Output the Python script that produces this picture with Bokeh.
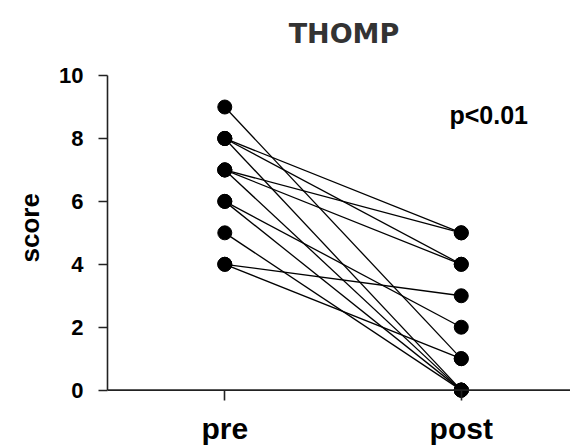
from bokeh.plotting import figure
from bokeh.models import Range1d, FixedTicker, Label, Span, Title
from bokeh.embed import file_html
from bokeh.resources import INLINE

# Data: paired scores (pre -> post) per subject
categories = ["pre", "post"]
pre_scores = [9, 8, 8, 8, 7, 7, 7, 6, 6, 5, 4, 4]
post_scores = [1, 5, 4, 0, 5, 4, 0, 2, 0, 0, 3, 1]
y_ticks = [0, 2, 4, 6, 8, 10]
title_text = "THOMP"
pvalue_text = "p<0.01"
y_label = "score"

x_pre = [1] * len(pre_scores)
x_post = [2] * len(post_scores)

p = figure(width=570, height=447, output_backend="svg", toolbar_location=None,
           x_range=Range1d(0.504, 2.462), y_range=Range1d(-0.33, 12.1),
           min_border_left=104, min_border_right=0, min_border_top=9,
           min_border_bottom=45)
p.title = None

p.grid.visible = False
p.outline_line_color = None
p.background_fill_color = "white"
p.border_fill_color = "white"

# title drawn inside the (extended) frame, above the y-axis bounds
p.add_layout(Label(x=1.504, y=11.34, text=title_text, text_font="DejaVu Sans",
                   text_font_style="bold", text_font_size="27px",
                   text_color="#333333", text_align="center",
                   text_baseline="middle"))

# x axis line at score 0
p.add_layout(Span(location=0, dimension="width", line_color="#222222", line_width=1.6))

p.segment(x0=x_pre, y0=pre_scores, x1=x_post, y1=post_scores,
          line_color="black", line_width=1.3)
p.scatter(x_pre, pre_scores, size=14, color="black")
p.scatter(x_post, post_scores, size=14, color="black")

# x axis
xa = p.xaxis[0]
xa.ticker = FixedTicker(ticks=[1, 2])
xa.major_label_overrides = {1: categories[0], 2: categories[1]}
xa.major_label_text_font = "Liberation Sans"
xa.major_label_text_font_style = "bold"
xa.major_label_text_font_size = "30px"
xa.major_label_text_color = "black"
xa.major_label_standoff = 11
xa.axis_line_color = None
xa.major_tick_line_width = 1.6
xa.major_tick_line_color = "#222222"
xa.major_tick_in = 10
xa.major_tick_out = 0
xa.minor_tick_line_color = None

# y axis
ya = p.yaxis[0]
ya.bounds = (0, 10)
ya.ticker = FixedTicker(ticks=y_ticks)
ya.major_label_text_font = "Liberation Sans"
ya.major_label_text_font_style = "bold"
ya.major_label_text_font_size = "22px"
ya.major_label_text_color = "black"
ya.major_label_standoff = 15
ya.axis_line_width = 1.6
ya.axis_line_color = "#222222"
ya.major_tick_line_width = 1.6
ya.major_tick_line_color = "#222222"
ya.major_tick_in = 0
ya.major_tick_out = 9
ya.minor_tick_line_color = None

# y axis title on the left side, positioned beside the 0..10 scale
p.add_layout(Title(text=y_label, align="left", offset=138, standoff=24,
                   text_font="Liberation Sans", text_font_style="bold",
                   text_font_size="26px", text_color="black"), "left")

p.add_layout(Label(x=1.95, y=8.75, text=pvalue_text, text_font="Liberation Sans",
                   text_font_style="bold", text_font_size="25px",
                   text_color="black", text_baseline="alphabetic"))

open("out.html", "w").write(file_html(p, INLINE))
